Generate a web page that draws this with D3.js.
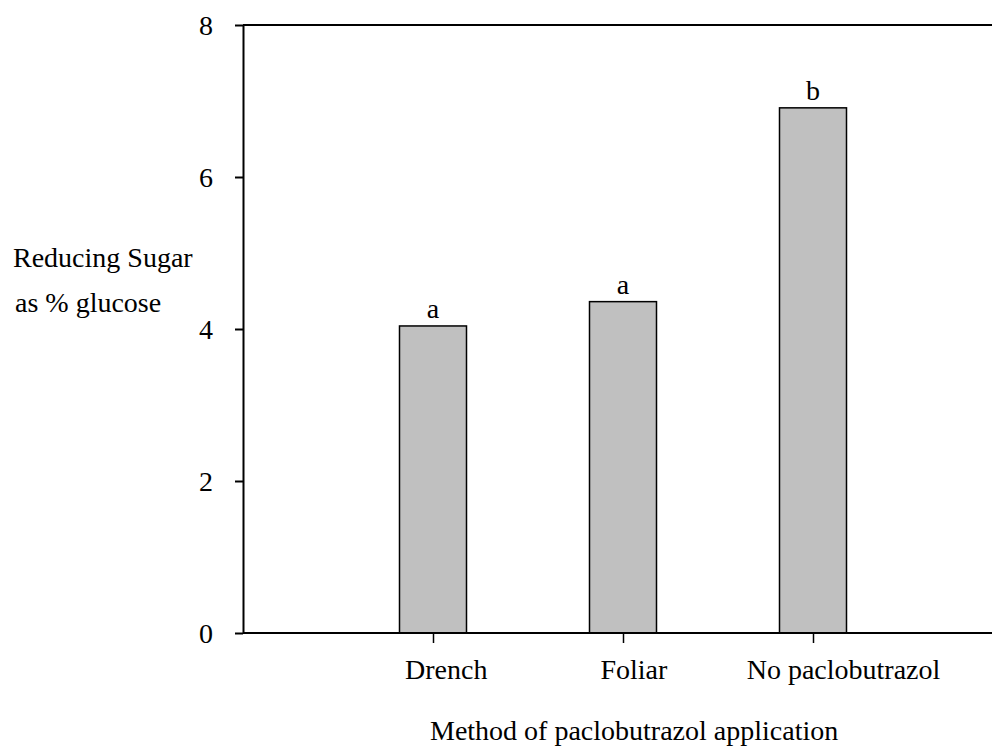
<!DOCTYPE html>
<html>
<head>
<meta charset="utf-8">
<script src="https://cdn.jsdelivr.net/npm/d3@7"></script>
<style>
  html, body { margin: 0; padding: 0; background: #fff; }
  svg { display: block; }
  svg text { font-family: "Liberation Serif", "Times New Roman", Times, "DejaVu Serif", serif; }
</style>
</head>
<body>
<svg id="chart" width="992" height="749"></svg>
<script>
const categories = ["Drench", "Foliar", "No paclobutrazol"];
const values = [4.04, 4.36, 6.91];
const letters = ["a", "a", "b"];
const yTicks = [0, 2, 4, 6, 8];
const yTitle = ["Reducing Sugar", "as % glucose"];
const xTitle = "Method of paclobutrazol application";

const svg = d3.select("#chart");
const fs = 28;
const axisLeftX = 243, axisRightX = 992;
const y = d3.scaleLinear().domain([0, 8]).range([633, 25]);
const x = d3.scalePoint().domain(["", ...categories, " "]).range([243, 1003]);
const barW = 67;

// bars
svg.append("g").selectAll("rect").data(categories).join("rect")
  .attr("x", (d) => x(d) - barW / 2)
  .attr("y", (d, i) => y(values[i]))
  .attr("width", barW)
  .attr("height", (d, i) => y(0) - y(values[i]))
  .attr("fill", "#c0c0c0")
  .attr("stroke", "#000")
  .attr("stroke-width", 1.5);

// letters
svg.append("g").selectAll("text").data(categories).join("text")
  .attr("x", (d) => x(d))
  .attr("y", (d, i) => y(values[i]) - 8)
  .attr("text-anchor", "middle")
  .attr("font-size", fs)
  .text((d, i) => letters[i]);

// y axis
const yAxis = svg.append("g").attr("transform", `translate(${axisLeftX},0)`)
  .call(d3.axisLeft(y).tickValues(yTicks).tickSize(8).tickSizeOuter(0).tickPadding(22).tickFormat(d3.format("d")));
yAxis.attr("font-family", null);
yAxis.select(".domain").attr("stroke-width", 2);
yAxis.selectAll(".tick line").attr("stroke-width", 2);
yAxis.selectAll(".tick text").attr("font-size", fs).attr("dy", "0.35em");

// x axis
const xAxis = svg.append("g").attr("transform", `translate(0,${y(0)})`)
  .call(d3.axisBottom(x).tickValues(categories).tickSize(10).tickSizeOuter(0));
xAxis.attr("font-family", null);
xAxis.select(".domain").remove();
xAxis.selectAll(".tick line").attr("stroke-width", 1.5);
xAxis.selectAll(".tick text")
  .attr("font-size", fs)
  .attr("y", 46).attr("dy", 0)
  .attr("text-anchor", "start")
  .each(function () {
    const w = this.getComputedTextLength();
    d3.select(this).attr("x", -0.345 * w);
  });

// bottom and top frame lines
svg.append("line").attr("x1", axisLeftX).attr("x2", axisRightX)
  .attr("y1", y(0)).attr("y2", y(0)).attr("stroke", "#000").attr("stroke-width", 2);
svg.append("line").attr("x1", axisLeftX).attr("x2", axisRightX)
  .attr("y1", y(8)).attr("y2", y(8)).attr("stroke", "#000").attr("stroke-width", 2);

// y title
svg.append("text").attr("x", 13).attr("y", 267).attr("font-size", fs).text(yTitle[0]);
svg.append("text").attr("x", 15).attr("y", 312).attr("font-size", fs).text(yTitle[1]);

// x title
svg.append("text").attr("x", 430).attr("y", 740)
  .attr("text-anchor", "start").attr("font-size", fs).text(xTitle);
</script>
</body>
</html>
